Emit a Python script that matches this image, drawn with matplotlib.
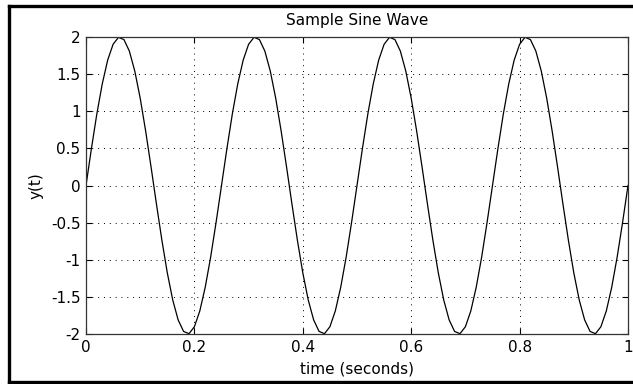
import matplotlib
matplotlib.use("Agg")
import matplotlib.pyplot as plt
from matplotlib.lines import Line2D

plt.rcParams['font.family'] = ['DejaVu Sans']

time_s = [i / 100 for i in range(101)]
y_vals = [
    0.000, 0.497, 0.964, 1.369, 1.689, 1.902, 1.996, 1.965, 1.810, 1.541,
    1.176, 0.736, 0.251, -0.251, -0.736, -1.176, -1.541, -1.810, -1.965, -1.996,
    -1.902, -1.689, -1.369, -0.964, -0.497,
    0.000, 0.497, 0.964, 1.369, 1.689, 1.902, 1.996, 1.965, 1.810, 1.541,
    1.176, 0.736, 0.251, -0.251, -0.736, -1.176, -1.541, -1.810, -1.965, -1.996,
    -1.902, -1.689, -1.369, -0.964, -0.497,
    0.000, 0.497, 0.964, 1.369, 1.689, 1.902, 1.996, 1.965, 1.810, 1.541,
    1.176, 0.736, 0.251, -0.251, -0.736, -1.176, -1.541, -1.810, -1.965, -1.996,
    -1.902, -1.689, -1.369, -0.964, -0.497,
    0.000, 0.497, 0.964, 1.369, 1.689, 1.902, 1.996, 1.965, 1.810, 1.541,
    1.176, 0.736, 0.251, -0.251, -0.736, -1.176, -1.541, -1.810, -1.965, -1.996,
    -1.902, -1.689, -1.369, -0.964, -0.497,
    0.000,
]
x_ticks = [0, 0.2, 0.4, 0.6, 0.8, 1]
x_tick_labels = ['0', '0.2', '0.4', '0.6', '0.8', '1']
y_ticks = [-2, -1.5, -1, -0.5, 0, 0.5, 1, 1.5, 2]
y_tick_labels = ['-2', '-1.5', '-1', '-0.5', '0', '0.5', '1', '1.5', '2']

W, H = 633, 384
fig = plt.figure(figsize=(W / 100, H / 100), dpi=100)
fig.patch.set_facecolor('white')

ax = fig.add_axes([86 / W, 1 - 334 / H, (628 - 86) / W, (334 - 37) / H])
ax.plot(time_s, y_vals, color='black', lw=0.9)
ax.set_xlim(0, 1)
ax.set_ylim(-2, 2)
ax.set_xticks(x_ticks)
ax.set_xticklabels(x_tick_labels)
ax.set_yticks(y_ticks)
ax.set_yticklabels(y_tick_labels)
ax.grid(True, color='black', linestyle=(0, (1, 5)), lw=0.7)
ax.tick_params(direction='in', top=True, right=True, length=4, width=0.8,
               labelsize=11, pad=4, colors='black')
for s in ax.spines.values():
    s.set_linewidth(0.9)
    s.set_color('#333333')

ax.set_title('Sample Sine Wave', fontsize=11, pad=9)
ax.set_xlabel('time (seconds)', fontsize=11, labelpad=5)
ax.set_ylabel('y(t)', fontsize=11, labelpad=5)

# outer frame (top, left, bottom)
lw = 2.4
fig.add_artist(Line2D([8.5 / W, 1], [1 - 5.5 / H, 1 - 5.5 / H], transform=fig.transFigure, color='black', lw=lw))
fig.add_artist(Line2D([8.5 / W, 8.5 / W], [1 - 5.5 / H, 1 - 382 / H], transform=fig.transFigure, color='black', lw=lw))
fig.add_artist(Line2D([8.5 / W, 1], [1 - 382 / H, 1 - 382 / H], transform=fig.transFigure, color='black', lw=lw))

fig.savefig('out.png', dpi=100)
